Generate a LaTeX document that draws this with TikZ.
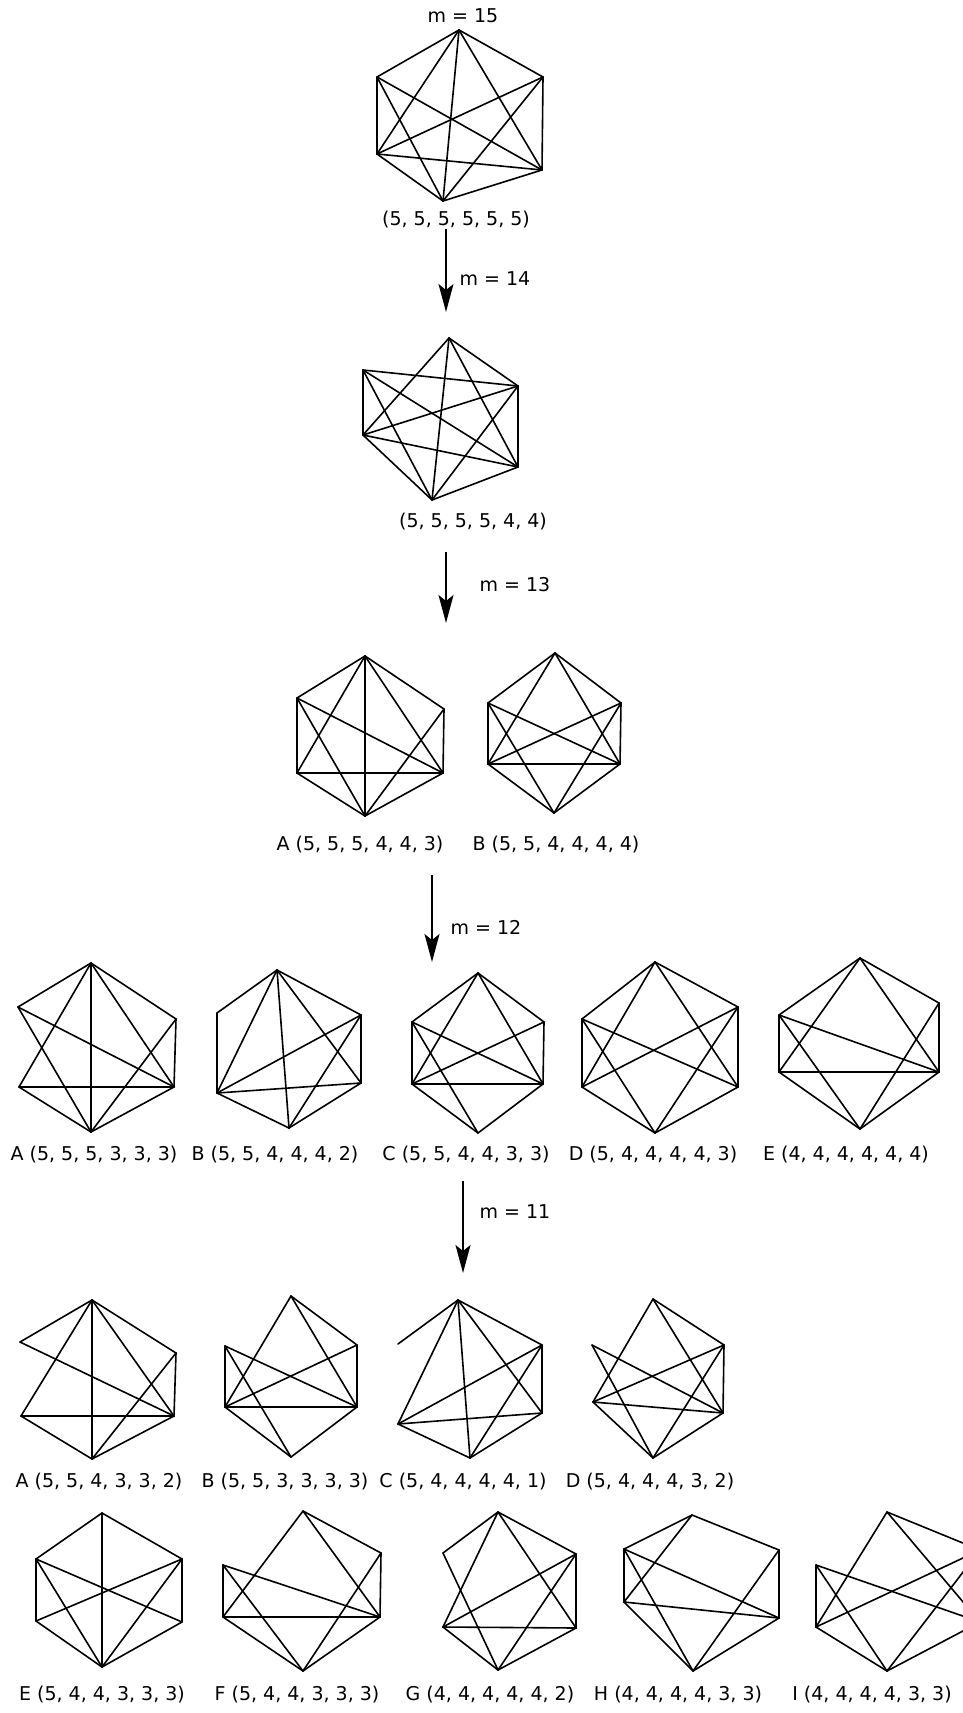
\documentclass[tikz,border=0pt]{standalone}
\usepackage{fontspec}
\setmainfont{DejaVu Sans}
\usetikzlibrary{arrows.meta}
\tikzset{
  edge/.style={line width=1.6pt, line cap=round, line join=round},
  lbl/.style={font=\fontsize{19}{22}\selectfont, inner sep=0pt, anchor=center},
  steparrow/.style={line width=1.8pt, -{Stealth[length=28pt,width=15pt,inset=6pt]}},
}
\newcommand\hexgraph[8]{%
  \coordinate (#1T) at (#2); \coordinate (#1UL) at (#3); \coordinate (#1UR) at (#4);
  \coordinate (#1LL) at (#5); \coordinate (#1LR) at (#6); \coordinate (#1B) at (#7);
  \foreach \u/\v in {#8} {\draw[edge] (#1\u) -- (#1\v);}%
}
\begin{document}
\begin{tikzpicture}[x=1pt,y=-1pt]
\clip (0,0) rectangle (963,1713);
\fill[white] (0,0) rectangle (963,1713);

% m = 15
\node[lbl] (l15) at (463,16) {m = 15};
\hexgraph{ga}{459,30}{377,77}{543,77}{377,154}{542,170}{443,201}
 {T/UL,T/UR,T/LL,T/LR,T/B,UL/LL,UL/LR,UL/B,UR/LL,UR/LR,UR/B,LL/LR,LL/B,LR/B}
\node[lbl] (da) at (456,220) {(5, 5, 5, 5, 5, 5)};
\coordinate (ar1s) at (446,229); \coordinate (ar1e) at (446,312);
\draw[steparrow] (ar1s) -- (ar1e);
\node[lbl] (l14) at (495,279) {m = 14};

% m = 14
\hexgraph{gb}{449,338}{363,370}{518,386}{363,435}{518,467}{432,500}
 {T/LL,T/B,T/LR,T/UR,UL/UR,UL/LR,UL/B,UL/LL,UR/LL,UR/B,UR/LR,LL/LR,LL/B,B/LR}
\node[lbl] (db) at (473,522) {(5, 5, 5, 5, 4, 4)};
\coordinate (ar2s) at (446,552); \coordinate (ar2e) at (446,623);
\draw[steparrow] (ar2s) -- (ar2e);
\node[lbl] (l13) at (515,585) {m = 13};

% m = 13
\hexgraph{gca}{365,656}{297,698}{444,709}{297,773}{443,773}{365,816}
 {T/UL,T/UR,T/B,T/LL,T/LR,UL/LL,UL/LR,UL/B,UR/LR,UR/B,LL/LR,LL/B,LR/B}
\hexgraph{gcb}{555,653}{488,703}{621,703}{488,764}{620,764}{554,813}
 {T/UL,T/UR,T/LL,T/LR,UL/LL,UL/LR,UL/B,UR/LL,UR/LR,UR/B,LL/LR,LL/B,LR/B}
\node[lbl] (dca) at (360,845) {A (5, 5, 5, 4, 4, 3)};
\node[lbl] (dcb) at (556,845) {B (5, 5, 4, 4, 4, 4)};
\coordinate (ar3s) at (432,875); \coordinate (ar3e) at (432,962);
\draw[steparrow] (ar3s) -- (ar3e);
\node[lbl] (l12) at (486,927) {m = 12};

% m = 12
\hexgraph{gda}{91,963}{18,1007}{176,1019}{19,1087}{174,1087}{91,1132}
 {T/UL,T/UR,T/B,T/LL,T/LR,UL/LR,UL/B,UR/LR,UR/B,LL/LR,LL/B,LR/B}
\hexgraph{gdb}{277,970}{217,1013}{361,1015}{217,1093}{361,1083}{289,1128}
 {T/UL,T/LL,T/B,T/LR,T/UR,UL/LL,UR/LL,UR/LR,UR/B,LL/LR,LL/B,LR/B}
\hexgraph{gdc}{478,973}{412,1022}{544,1022}{412,1084}{543,1084}{478,1133}
 {T/UL,T/UR,T/LL,T/LR,UL/LL,UL/LR,UL/B,UR/LL,UR/LR,LL/LR,LL/B,LR/B}
\hexgraph{gdd}{655,962}{582,1019}{738,1007}{582,1087}{738,1087}{655,1133}
 {T/UL,T/UR,T/LL,T/LR,UL/LL,UL/LR,UL/B,UR/LL,UR/LR,UR/B,LL/B,LR/B}
\hexgraph{gde}{860,958}{779,1015}{939,1003}{779,1072}{939,1072}{860,1129}
 {T/UL,T/UR,T/LL,T/LR,UL/LL,UL/LR,UL/B,UR/LR,UR/B,LL/LR,LL/B,LR/B}
\node[lbl] (dda) at (94,1155) {A (5, 5, 5, 3, 3, 3)};
\node[lbl] (ddb) at (275,1155) {B (5, 5, 4, 4, 4, 2)};
\node[lbl] (ddc) at (466,1155) {C (5, 5, 4, 4, 3, 3)};
\node[lbl] (ddd) at (653,1155) {D (5, 4, 4, 4, 4, 3)};
\node[lbl] (dde) at (846,1155) {E (4, 4, 4, 4, 4, 4)};
\coordinate (ar4s) at (463,1181); \coordinate (ar4e) at (463,1273);
\draw[steparrow] (ar4s) -- (ar4e);
\node[lbl] (l11) at (515,1212) {m = 11};

% m = 11
\hexgraph{gea}{92,1300}{20,1342}{176,1353}{21,1416}{174,1416}{92,1459}
 {T/UL,T/UR,T/B,T/LL,T/LR,UL/LR,UR/LR,UR/B,LL/LR,LL/B,LR/B}
\hexgraph{geb}{291,1296}{225,1346}{357,1345}{225,1407}{357,1407}{291,1457}
 {T/LL,T/UR,T/LR,UL/LL,UL/LR,UL/B,UR/LL,UR/LR,LL/LR,LL/B,LR/B}
\hexgraph{gec}{458,1300}{398,1344}{542,1345}{398,1424}{542,1413}{470,1458}
 {T/UL,T/UR,T/LL,T/B,T/LR,UR/LL,UR/LR,UR/B,LL/LR,LL/B,LR/B}
\hexgraph{ged}{653,1299}{592,1345}{724,1345}{593,1402}{723,1413}{653,1458}
 {T/LL,T/UR,T/LR,UL/LR,UL/B,UR/LL,UR/LR,UR/B,LL/LR,LL/B,LR/B}
\node[lbl] (dea) at (99,1482) {A (5, 5, 4, 3, 3, 2)};
\node[lbl] (deb) at (285,1482) {B (5, 5, 3, 3, 3, 3)};
\node[lbl] (dec) at (463,1482) {C (5, 4, 4, 4, 4, 1)};
\node[lbl] (ded) at (650,1482) {D (5, 4, 4, 4, 3, 2)};

\hexgraph{gee}{102,1513}{36,1559}{182,1559}{36,1621}{182,1622}{102,1667}
 {T/UL,T/UR,T/B,UL/LL,UL/LR,UL/B,UR/LL,UR/LR,UR/B,LL/B,LR/B}
\hexgraph{gef}{303,1511}{223,1565}{381,1553}{223,1617}{380,1617}{303,1671}
 {T/LL,T/UR,T/LR,UL/LL,UL/LR,UL/B,UR/LR,UR/B,LL/LR,LL/B,LR/B}
\hexgraph{geg}{498,1512}{443,1553}{576,1554}{443,1627}{576,1628}{498,1670}
 {T/UL,T/UR,T/LL,T/LR,UL/B,UR/LL,UR/LR,UR/B,LL/LR,LL/B,LR/B}
\hexgraph{geh}{692,1515}{624,1549}{779,1550}{624,1602}{779,1618}{693,1671}
 {T/UL,T/UR,T/LL,UL/LL,UL/LR,UL/B,UR/LR,UR/B,LL/LR,LL/B,LR/B}
\hexgraph{gei}{887,1512}{816,1565}{980,1550}{816,1627}{980,1622}{887,1671}
 {T/UR,T/LL,T/LR,UL/LL,UL/LR,UL/B,UR/LL,UR/B,UR/LR,LL/B,LR/B}
\node[lbl] (dee) at (102,1695) {E (5, 4, 4, 3, 3, 3)};
\node[lbl] (def) at (297,1695) {F (5, 4, 4, 3, 3, 3)};
\node[lbl] (deg) at (490,1695) {G (4, 4, 4, 4, 4, 2)};
\node[lbl] (deh) at (678,1695) {H (4, 4, 4, 4, 3, 3)};
\node[lbl] (dei) at (872,1695) {I (4, 4, 4, 4, 3, 3)};
\end{tikzpicture}
\end{document}
